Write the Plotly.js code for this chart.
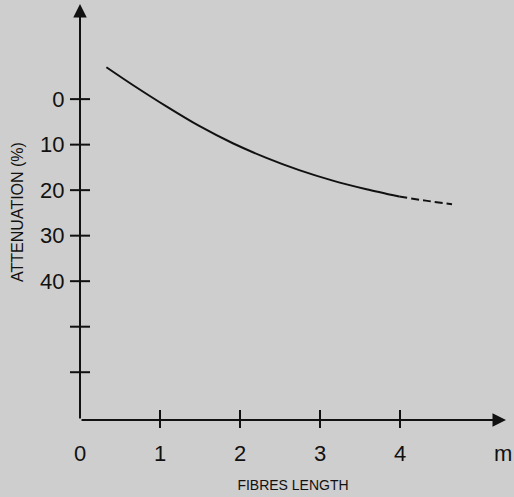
<!DOCTYPE html>
<html>
<head>
<meta charset="utf-8">
<script src="https://cdn.plot.ly/plotly-3.0.1.min.js"></script>
<style>
  html, body { margin: 0; padding: 0; background: #cecece; }
  #chart { width: 514px; height: 497px; }
</style>
</head>
<body>
<div id="chart"></div>
<script>
// ---- data ----
const lengthSolid  = [0.33, 0.66, 1.08, 1.49, 1.91, 2.33, 2.74, 3.16, 3.58, 3.99];
const attenSolid   = [-7.0, -3.1, 1.6, 5.9, 9.7, 12.9, 15.6, 17.9, 19.8, 21.4];
const lengthDashed = [3.99, 4.32, 4.65];
const attenDashed  = [21.4, 22.3, 23.1];

const xTickVals  = [0, 1, 2, 3, 4, 5.29];
const xTickText  = ['0', '1', '2', '3', '4', 'm'];
const xTickMarks = [1, 2, 3, 4];
const yTickVals  = [0, 10, 20, 30, 40];
const yTickText  = ['0', '10', '20', '30', '40'];
const yTickMarks = [0, 10, 20, 30, 40, 50, 60];

const xRange = [0, 5.325];
const yRange = [70.5, -20.9];   // reversed: attenuation grows downward

const ink = '#111111';
const bg = '#cecece';

const traces = [
  { x: lengthSolid, y: attenSolid, mode: 'lines', type: 'scatter',
    line: { color: ink, width: 2, shape: 'spline', smoothing: 0.8 }, hoverinfo: 'skip' },
  { x: lengthDashed, y: attenDashed, mode: 'lines', type: 'scatter',
    line: { color: ink, width: 2, dash: '8px,4px', shape: 'spline' }, hoverinfo: 'skip' }
];

const shapes = [];
// y ticks cross the vertical axis (paper x so they are not clipped to the plot area)
yTickMarks.forEach(v => shapes.push({
  type: 'line', xref: 'paper', yref: 'y', xsizemode: 'pixel', xanchor: 0,
  x0: -10, x1: 10, y0: v, y1: v, line: { color: ink, width: 2 }
}));
// x ticks cross the horizontal axis
xTickMarks.forEach(v => shapes.push({
  type: 'line', xref: 'x', yref: 'paper', ysizemode: 'pixel', yanchor: 0,
  y0: -8, y1: 10, x0: v, x1: v, line: { color: ink, width: 2 }
}));

const annotations = [
  { x: xRange[0], y: yRange[1], ax: xRange[0], ay: yRange[0],
    xref: 'x', yref: 'y', axref: 'x', ayref: 'y', text: '', showarrow: true,
    arrowhead: 2, arrowsize: 1.35, arrowwidth: 2, arrowcolor: ink, standoff: 0 },
  { x: xRange[1], y: yRange[0], ax: xRange[0], ay: yRange[0],
    xref: 'x', yref: 'y', axref: 'x', ayref: 'y', text: '', showarrow: true,
    arrowhead: 2, arrowsize: 1.35, arrowwidth: 2, arrowcolor: ink, standoff: 0 }
];

const layout = {
  width: 514, height: 497,
  margin: { l: 80, r: 8, t: 4, b: 77 },
  paper_bgcolor: bg, plot_bgcolor: bg,
  showlegend: false,
  font: { family: 'Liberation Sans, Arial, sans-serif', color: ink },
  xaxis: {
    range: xRange, showgrid: false, zeroline: false, showline: false,
    tickmode: 'array', tickvals: xTickVals, ticktext: xTickText,
    ticks: 'outside', ticklen: 9, tickcolor: 'rgba(0,0,0,0)',
    tickfont: { size: 22, color: ink }, ticklabelstandoff: 5,
    title: { text: 'FIBRES LENGTH', font: { size: 14, color: ink }, standoff: 14 },
    fixedrange: true
  },
  yaxis: {
    range: yRange, showgrid: false, zeroline: false, showline: false,
    tickmode: 'array', tickvals: yTickVals, ticktext: yTickText,
    ticks: 'outside', ticklen: 9, tickcolor: 'rgba(0,0,0,0)',
    tickfont: { size: 22, color: ink }, ticklabelstandoff: 1,
    title: { text: 'ATTENUATION (%)', font: { size: 16, color: ink }, standoff: 12 },
    fixedrange: true
  },
  shapes: shapes,
  annotations: annotations
};

Plotly.newPlot('chart', traces, layout, { staticPlot: true, displayModeBar: false });
</script>
</body>
</html>
